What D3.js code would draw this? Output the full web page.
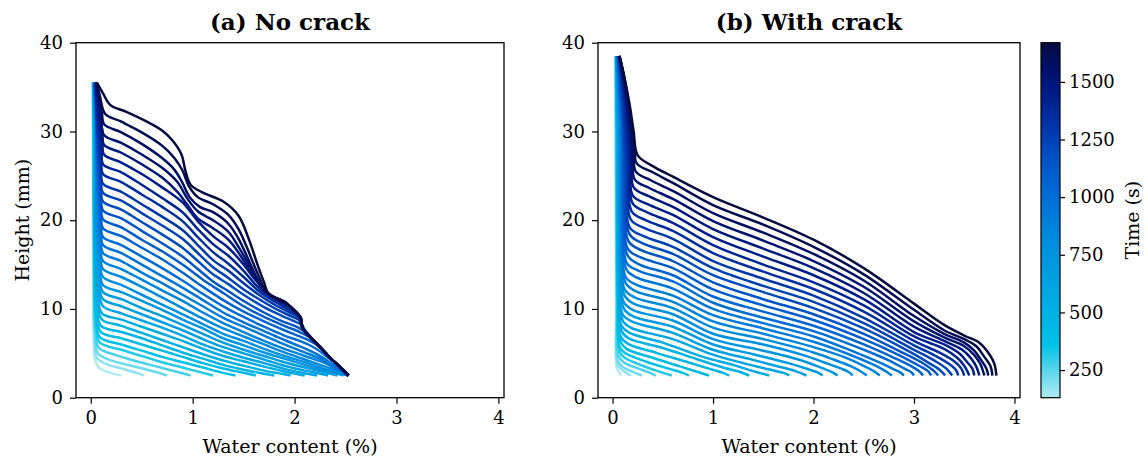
<!DOCTYPE html>
<html>
<head>
<meta charset="utf-8">
<script src="https://cdn.jsdelivr.net/npm/d3@7"></script>
<style>
  body { margin: 0; background: #fff; }
  svg text { font-family: "DejaVu Serif", serif; fill: #000; }
</style>
</head>
<body>
<svg id="chart"></svg>
<script>
// time of each profile (s), earliest first
const times = [130, 177, 223, 270, 317, 363, 410, 457, 503, 550, 597, 643, 690, 737, 783, 830, 877,
  923, 970, 1017, 1063, 1110, 1157, 1203, 1250, 1297, 1343, 1390, 1437, 1483, 1530, 1577, 1623, 1670];

// (a) no crack: [water content %, height mm] along each profile
const curvesA = [
  [[0.02,35.5],[0.02,30],[0.025,15],[0.03,6],[0.04,4.4],[0.08,3.4],[0.18,2.85],[0.3,2.5]],
  [[0.02,35.5],[0.022,30],[0.027,15],[0.035,6.5],[0.06,4.5],[0.15,3.8],[0.3,3.3],[0.45,2.8],[0.52,2.5]],
  [[0.022,35.5],[0.024,30],[0.03,15],[0.04,7],[0.07,5.0],[0.2,4.2],[0.4,3.6],[0.6,3.0],[0.75,2.5]],
  [[0.022,35.5],[0.026,30],[0.032,15],[0.045,7.5],[0.08,5.6],[0.25,4.8],[0.45,4.1],[0.65,3.5],[0.85,2.9],[0.98,2.5]],
  [[0.024,35.5],[0.028,30],[0.034,15],[0.05,8],[0.09,6.2],[0.3,5.4],[0.5,4.7],[0.7,4.0],[0.9,3.4],[1.1,2.8],[1.2,2.5]],
  [[0.024,35.5],[0.03,30],[0.036,15],[0.055,8.6],[0.09,6.8],[0.3,6.0],[0.5,5.3],[0.7,4.6],[0.9,4.0],[1.1,3.4],[1.3,2.8],[1.42,2.5]],
  [[0.026,35.5],[0.032,30],[0.038,15],[0.058,9.3],[0.1,7.4],[0.3,6.7],[0.5,6.0],[0.7,5.3],[0.9,4.6],[1.1,3.9],[1.3,3.3],[1.5,2.8],[1.62,2.5]],
  [[0.026,35.5],[0.034,30],[0.04,16],[0.06,10],[0.1,8.1],[0.3,7.4],[0.5,6.7],[0.7,5.9],[0.9,5.1],[1.1,4.4],[1.3,3.7],[1.5,3.15],[1.7,2.7],[1.8,2.5]],
  [[0.028,35.5],[0.036,30],[0.042,16],[0.065,10.7],[0.11,8.8],[0.3,8.1],[0.5,7.3],[0.7,6.5],[0.9,5.7],[1.1,4.9],[1.3,4.2],[1.5,3.6],[1.7,3.05],[1.87,2.7],[1.96,2.5]],
  [[0.028,35.5],[0.038,30],[0.045,17],[0.07,11.4],[0.11,9.5],[0.3,8.8],[0.5,8.0],[0.7,7.2],[0.9,6.4],[1.1,5.5],[1.3,4.7],[1.5,4.1],[1.7,3.5],[1.9,2.95],[2.03,2.65],[2.1,2.5]],
  [[0.03,35.5],[0.04,30],[0.048,18],[0.075,12.2],[0.12,10.3],[0.3,9.5],[0.5,8.7],[0.7,7.9],[0.9,7.0],[1.1,6.0],[1.3,5.2],[1.5,4.5],[1.7,3.9],[1.9,3.25],[2.1,2.75],[2.22,2.5]],
  [[0.03,35.5],[0.042,30],[0.05,18],[0.08,13],[0.12,11.1],[0.3,10.3],[0.5,9.4],[0.7,8.5],[0.9,7.6],[1.1,6.6],[1.3,5.7],[1.5,5.0],[1.7,4.3],[1.9,3.6],[2.1,3.05],[2.25,2.7],[2.33,2.5]],
  [[0.032,35.5],[0.044,30],[0.053,19],[0.085,13.8],[0.12,11.9],[0.3,11.1],[0.5,10.1],[0.7,9.2],[0.9,8.2],[1.1,7.2],[1.3,6.2],[1.5,5.4],[1.7,4.7],[1.9,4.0],[2.1,3.4],[2.3,2.85],[2.42,2.5]],
  [[0.032,35.5],[0.046,30],[0.056,20],[0.09,14.6],[0.12,12.7],[0.3,11.9],[0.5,10.9],[0.7,9.9],[0.9,8.8],[1.1,7.8],[1.3,6.7],[1.5,5.9],[1.7,5.1],[1.9,4.4],[2.1,3.7],[2.3,3.0],[2.42,2.7],[2.48,2.5]],
  [[0.034,35.5],[0.048,30],[0.058,21],[0.09,15.5],[0.12,13.6],[0.3,12.7],[0.5,11.6],[0.7,10.5],[0.9,9.4],[1.1,8.3],[1.3,7.2],[1.5,6.4],[1.7,5.5],[1.9,4.7],[2.1,4.0],[2.3,3.2],[2.45,2.75],[2.52,2.5]],
  [[0.034,35.5],[0.05,30],[0.06,22],[0.095,16.4],[0.12,14.5],[0.3,13.6],[0.5,12.5],[0.7,11.3],[0.9,10.1],[1.1,8.9],[1.3,7.8],[1.5,6.9],[1.7,6.0],[1.9,5.1],[2.1,4.3],[2.3,3.5],[2.45,2.9],[2.53,2.5]],
  [[0.036,35.5],[0.052,30],[0.062,23],[0.095,17.3],[0.12,15.4],[0.3,14.5],[0.5,13.3],[0.7,12.1],[0.9,10.9],[1.1,9.6],[1.3,8.4],[1.5,7.4],[1.7,6.4],[1.9,5.5],[2.1,4.7],[2.3,3.9],[2.45,3.0],[2.53,2.5]],
  [[0.036,35.5],[0.054,30],[0.065,24],[0.1,18.2],[0.12,16.3],[0.3,15.4],[0.5,14.1],[0.7,12.9],[0.9,11.6],[1.1,10.3],[1.3,9.0],[1.5,8.0],[1.7,7.0],[1.9,6.0],[2.1,5.1],[2.27,4.3],[2.42,3.2],[2.53,2.5]],
  [[0.038,35.5],[0.056,30],[0.068,24],[0.1,19.1],[0.12,17.2],[0.3,16.3],[0.5,15.0],[0.7,13.7],[0.9,12.4],[1.1,11.0],[1.3,9.6],[1.5,8.5],[1.7,7.5],[1.9,6.5],[2.07,5.7],[2.22,4.9],[2.38,3.7],[2.53,2.5]],
  [[0.038,35.5],[0.058,30],[0.07,25],[0.1,20],[0.12,18.1],[0.3,17.2],[0.5,15.9],[0.7,14.6],[0.9,13.2],[1.1,11.7],[1.3,10.3],[1.5,9.1],[1.7,8.0],[1.9,7.0],[2.05,6.4],[2.2,5.6],[2.33,4.5],[2.45,3.4],[2.53,2.5]],
  [[0.04,35.5],[0.06,30],[0.072,25],[0.1,21],[0.12,19.1],[0.3,18.2],[0.5,16.9],[0.7,15.6],[0.9,14.1],[1.1,12.5],[1.3,11.0],[1.5,9.7],[1.7,8.6],[1.9,7.6],[2.05,6.9],[2.15,6.4],[2.25,5.7],[2.35,4.5],[2.45,3.4],[2.53,2.5]],
  [[0.04,35.5],[0.062,30],[0.075,26],[0.1,22],[0.12,20.1],[0.3,19.2],[0.5,17.8],[0.7,16.5],[0.9,15.0],[1.1,13.3],[1.3,11.8],[1.5,10.3],[1.7,9.1],[1.9,8.1],[2.05,7.4],[2.15,6.8],[2.2,6.3],[2.35,4.5],[2.45,3.4],[2.53,2.5]],
  [[0.042,35.5],[0.064,30],[0.078,26],[0.1,23],[0.12,21.1],[0.3,20.2],[0.5,18.8],[0.7,17.4],[0.9,15.9],[1.05,14.5],[1.2,13.1],[1.35,12.0],[1.5,10.9],[1.7,9.6],[1.88,8.6],[2.0,8.1],[2.08,7.6],[2.2,6.3],[2.35,4.5],[2.45,3.4],[2.53,2.5]],
  [[0.042,35.5],[0.066,30],[0.08,27],[0.1,24],[0.12,22.1],[0.3,21.2],[0.5,19.8],[0.7,18.4],[0.9,16.9],[1.05,15.4],[1.2,13.9],[1.35,12.8],[1.5,11.6],[1.7,10.2],[1.88,9.2],[2.0,8.6],[2.07,8.2],[2.1,7.6],[2.2,6.3],[2.35,4.5],[2.45,3.4],[2.53,2.5]],
  [[0.044,35.5],[0.068,30],[0.085,27],[0.1,25],[0.12,23.1],[0.3,22.2],[0.5,20.8],[0.7,19.4],[0.9,17.9],[1.05,16.3],[1.2,14.7],[1.35,13.5],[1.5,12.2],[1.68,10.9],[1.85,9.8],[1.98,9.1],[2.06,8.6],[2.09,7.8],[2.2,6.3],[2.35,4.5],[2.45,3.4],[2.53,2.5]],
  [[0.044,35.5],[0.07,30],[0.09,27.5],[0.1,26],[0.12,24.1],[0.3,23.2],[0.5,21.8],[0.7,20.4],[0.9,18.9],[1.05,17.2],[1.2,15.5],[1.35,14.3],[1.5,12.9],[1.65,11.6],[1.8,10.5],[1.95,9.6],[2.04,9.0],[2.08,7.8],[2.2,6.3],[2.35,4.5],[2.45,3.4],[2.53,2.5]],
  [[0.046,35.5],[0.072,31],[0.095,28],[0.105,27],[0.12,25.2],[0.3,24.3],[0.5,22.9],[0.7,21.5],[0.9,19.9],[1.05,18.1],[1.2,16.4],[1.35,15.1],[1.5,13.6],[1.63,12.2],[1.75,11.2],[1.9,10.2],[2.0,9.5],[2.06,9.0],[2.08,7.8],[2.2,6.3],[2.35,4.5],[2.45,3.4],[2.53,2.5]],
  [[0.048,35.5],[0.074,32],[0.1,29],[0.11,28],[0.12,26.3],[0.3,25.4],[0.5,24.0],[0.7,22.5],[0.9,20.9],[1.05,19.0],[1.2,17.3],[1.35,16.0],[1.5,14.3],[1.62,12.7],[1.72,11.7],[1.85,10.8],[1.97,10.0],[2.04,9.2],[2.08,7.8],[2.2,6.3],[2.35,4.5],[2.45,3.4],[2.53,2.5]],
  [[0.05,35.5],[0.076,32.5],[0.1,30],[0.115,29],[0.13,27.4],[0.3,26.5],[0.5,25.2],[0.7,23.7],[0.9,22.0],[1.05,19.9],[1.2,18.2],[1.35,16.9],[1.5,15.0],[1.6,13.5],[1.7,12.2],[1.8,11.3],[1.92,10.5],[2.0,9.8],[2.06,9.0],[2.08,7.8],[2.2,6.3],[2.35,4.5],[2.45,3.4],[2.53,2.5]],
  [[0.052,35.5],[0.078,33],[0.1,31],[0.115,30],[0.13,28.5],[0.3,27.6],[0.5,26.3],[0.7,24.8],[0.85,23.2],[0.95,21.7],[1.05,20.2],[1.2,19.1],[1.35,17.8],[1.47,16.0],[1.57,14.2],[1.66,12.7],[1.75,11.6],[1.85,11.0],[1.95,10.3],[2.0,9.8],[2.06,9.0],[2.08,7.8],[2.2,6.3],[2.35,4.5],[2.45,3.4],[2.53,2.5]],
  [[0.054,35.5],[0.08,33.5],[0.1,31.5],[0.13,29.6],[0.3,28.7],[0.5,27.4],[0.7,25.9],[0.85,24.3],[0.95,22.4],[1.05,21.0],[1.2,20.0],[1.35,18.7],[1.45,17.0],[1.55,15.0],[1.63,13.3],[1.7,12.2],[1.8,11.3],[1.9,10.8],[2.0,9.8],[2.06,9.0],[2.08,7.8],[2.2,6.3],[2.35,4.5],[2.45,3.4],[2.53,2.5]],
  [[0.056,35.5],[0.08,34],[0.11,32],[0.13,30.8],[0.3,29.9],[0.5,28.6],[0.7,27.0],[0.82,25.7],[0.9,24.2],[0.97,22.6],[1.07,21.5],[1.2,20.9],[1.35,19.6],[1.45,17.9],[1.53,16.0],[1.6,14.2],[1.67,12.6],[1.75,11.6],[1.9,10.8],[2.0,9.8],[2.06,9.0],[2.08,7.8],[2.2,6.3],[2.35,4.5],[2.45,3.4],[2.53,2.5]],
  [[0.058,35.5],[0.09,34.0],[0.14,32.0],[0.3,31.1],[0.5,29.9],[0.7,28.4],[0.82,27.0],[0.9,25.6],[0.96,23.9],[1.05,22.6],[1.2,21.8],[1.35,20.6],[1.45,19.0],[1.53,17.0],[1.6,15.0],[1.67,13.1],[1.73,11.8],[1.9,10.8],[2.0,9.8],[2.06,9.0],[2.08,7.8],[2.2,6.3],[2.35,4.5],[2.45,3.4],[2.53,2.5]],
  [[0.06,35.5],[0.12,34.3],[0.19,33.0],[0.35,32.2],[0.55,31.1],[0.7,30.1],[0.8,29.0],[0.89,27.4],[0.93,25.5],[0.98,24.0],[1.1,23.1],[1.3,22.1],[1.45,20.5],[1.55,17.9],[1.63,15.2],[1.7,13.0],[1.75,11.6],[1.9,10.8],[2.0,9.8],[2.06,9.0],[2.08,7.8],[2.2,6.3],[2.35,4.5],[2.45,3.4],[2.53,2.5]]
];

// (b) with crack
const curvesB = [
  [[0.03,38.5],[0.03,36],[0.03,30],[0.035,10],[0.04,3.4],[0.06,3.0],[0.08,2.5]],
  [[0.031,38.5],[0.032,36],[0.033,30],[0.04,10],[0.05,3.8],[0.09,3.2],[0.14,2.8],[0.18,2.5]],
  [[0.032,38.5],[0.033,36],[0.035,30],[0.042,10],[0.05,4.2],[0.1,3.5],[0.2,2.9],[0.29,2.5]],
  [[0.033,38.5],[0.034,36],[0.037,30],[0.045,10],[0.06,4.7],[0.11,4.0],[0.25,3.3],[0.35,2.9],[0.43,2.5]],
  [[0.034,38.5],[0.035,36],[0.04,30],[0.05,10],[0.07,5.2],[0.12,4.5],[0.3,3.6],[0.45,3.0],[0.59,2.5]],
  [[0.035,38.5],[0.036,36],[0.042,30],[0.052,11],[0.07,5.7],[0.13,5.0],[0.35,4.0],[0.55,3.3],[0.7,2.8],[0.76,2.5]],
  [[0.036,38.5],[0.038,36],[0.045,30],[0.055,11],[0.08,6.3],[0.14,5.5],[0.4,4.5],[0.65,3.6],[0.85,2.9],[0.96,2.5]],
  [[0.037,38.5],[0.04,36],[0.047,30],[0.058,12],[0.08,6.9],[0.15,6.1],[0.45,5.0],[0.75,4.0],[0.95,3.3],[1.1,2.8],[1.16,2.5]],
  [[0.038,38.5],[0.041,36],[0.05,30],[0.06,12],[0.09,7.5],[0.16,6.7],[0.5,5.6],[0.85,4.3],[1.1,3.4],[1.27,2.9],[1.36,2.5]],
  [[0.04,38.5],[0.043,36],[0.052,30],[0.062,13],[0.09,8.1],[0.17,7.3],[0.5,6.2],[0.9,4.6],[1.2,3.7],[1.4,3.0],[1.56,2.5]],
  [[0.041,38.5],[0.045,36],[0.055,30],[0.065,13],[0.1,8.7],[0.18,7.9],[0.6,6.6],[1.0,4.85],[1.3,3.9],[1.55,3.2],[1.7,2.8],[1.76,2.5]],
  [[0.042,38.5],[0.046,36],[0.058,30],[0.068,14],[0.1,9.4],[0.19,8.6],[0.6,7.3],[1.0,5.4],[1.35,4.4],[1.62,3.6],[1.82,3.0],[1.93,2.5]],
  [[0.043,38.5],[0.048,36],[0.062,30],[0.072,15],[0.11,10.1],[0.2,9.2],[0.6,8.0],[1.0,6.0],[1.4,4.9],[1.75,3.9],[1.95,3.2],[2.05,2.8],[2.09,2.5]],
  [[0.044,38.5],[0.05,36],[0.066,30],[0.075,15],[0.11,10.8],[0.2,9.9],[0.6,8.7],[1.0,6.6],[1.5,5.3],[1.85,4.3],[2.05,3.5],[2.18,2.9],[2.24,2.5]],
  [[0.045,38.5],[0.053,36],[0.07,30],[0.08,16],[0.12,11.5],[0.21,10.6],[0.6,9.4],[1.0,7.2],[1.5,6.0],[1.9,4.8],[2.1,4.0],[2.27,3.3],[2.35,2.9],[2.39,2.5]],
  [[0.047,38.5],[0.055,36],[0.075,30],[0.085,17],[0.12,12.2],[0.22,11.3],[0.6,10.1],[1.0,7.9],[1.5,6.6],[2.0,5.1],[2.2,4.3],[2.38,3.5],[2.48,2.9],[2.53,2.5]],
  [[0.048,38.5],[0.058,36],[0.08,30],[0.09,17],[0.13,12.9],[0.23,12.0],[0.6,10.8],[1.0,8.6],[1.5,7.2],[2.0,5.7],[2.3,4.6],[2.48,3.7],[2.6,3.0],[2.66,2.5]],
  [[0.05,38.5],[0.06,36],[0.085,30],[0.095,18],[0.13,13.6],[0.24,12.7],[0.6,11.5],[1.0,9.3],[1.5,7.8],[2.0,6.3],[2.35,4.9],[2.58,3.8],[2.7,3.1],[2.78,2.5]],
  [[0.051,38.5],[0.062,36],[0.09,30],[0.1,19],[0.14,14.4],[0.25,13.5],[0.6,12.3],[1.0,10.0],[1.5,8.4],[2.0,6.9],[2.4,5.2],[2.65,4.0],[2.8,3.2],[2.87,2.8],[2.9,2.5]],
  [[0.052,38.5],[0.065,36],[0.095,30],[0.105,20],[0.14,15.2],[0.26,14.3],[0.6,13.1],[1.0,10.7],[1.5,9.0],[2.0,7.5],[2.5,5.4],[2.75,4.2],[2.9,3.3],[2.97,2.9],[3.0,2.5]],
  [[0.054,38.5],[0.068,36],[0.1,30],[0.11,21],[0.15,16.0],[0.27,15.0],[0.6,13.8],[1.0,11.4],[1.5,9.7],[2.0,8.1],[2.5,6.0],[2.8,4.5],[2.98,3.5],[3.06,2.9],[3.09,2.5]],
  [[0.055,38.5],[0.07,36],[0.105,30],[0.115,22],[0.15,16.8],[0.28,15.8],[0.6,14.6],[1.0,12.2],[1.5,10.4],[2.0,8.75],[2.5,6.6],[2.85,4.8],[3.05,3.6],[3.14,3.0],[3.17,2.5]],
  [[0.057,38.5],[0.075,36],[0.11,30],[0.12,23],[0.16,17.6],[0.29,16.6],[0.6,15.4],[1.0,13.0],[1.5,11.1],[2.0,9.4],[2.5,7.2],[2.9,5.0],[3.1,3.8],[3.2,3.0],[3.24,2.5]],
  [[0.058,38.5],[0.08,36],[0.115,30],[0.13,24],[0.17,18.4],[0.3,17.4],[0.6,16.2],[1.0,13.8],[1.5,11.9],[2.0,10.1],[2.5,7.8],[3.0,4.9],[3.15,3.9],[3.26,3.1],[3.31,2.5]],
  [[0.06,38.5],[0.085,36],[0.12,30],[0.14,25],[0.17,19.2],[0.31,18.2],[0.6,17.0],[1.0,14.6],[1.5,12.6],[2.0,10.8],[2.5,8.4],[3.0,5.4],[3.2,4.2],[3.32,3.3],[3.38,2.5]],
  [[0.061,38.5],[0.09,36],[0.13,30],[0.15,25.5],[0.18,20.1],[0.32,19.1],[0.6,17.9],[1.0,15.4],[1.5,13.4],[2.0,11.5],[2.5,9.0],[3.0,5.9],[3.2,4.8],[3.35,3.8],[3.42,3.1],[3.44,2.5]],
  [[0.062,38.5],[0.095,36],[0.14,30],[0.16,26],[0.19,21.0],[0.33,20.0],[0.6,18.8],[1.0,16.3],[1.5,14.2],[2.0,12.25],[2.5,9.7],[3.0,6.4],[3.25,5.1],[3.4,4.1],[3.47,3.3],[3.5,2.5]],
  [[0.064,38.5],[0.1,36],[0.15,30],[0.17,26.5],[0.2,21.9],[0.34,20.9],[0.6,19.7],[1.0,17.2],[1.5,15.0],[2.0,13.0],[2.5,10.4],[3.0,6.9],[3.3,5.5],[3.43,4.5],[3.5,3.6],[3.55,2.5]],
  [[0.065,38.5],[0.105,36],[0.16,30],[0.18,27],[0.2,22.8],[0.35,21.8],[0.6,20.6],[1.0,18.1],[1.5,15.9],[2.0,13.8],[2.5,11.1],[3.0,7.4],[3.3,6.0],[3.45,5.0],[3.53,4.0],[3.58,3.3],[3.6,2.5]],
  [[0.066,38.5],[0.11,36],[0.17,30],[0.19,27],[0.21,23.7],[0.36,22.7],[0.6,21.5],[1.0,19.0],[1.5,16.8],[2.0,14.6],[2.5,11.8],[3.0,8.0],[3.3,6.4],[3.48,5.4],[3.57,4.4],[3.62,3.5],[3.65,2.5]],
  [[0.067,38.5],[0.112,36],[0.18,30],[0.2,27.5],[0.22,24.6],[0.37,23.6],[0.6,22.4],[1.0,19.9],[1.5,17.7],[2.0,15.4],[2.5,12.5],[3.0,8.6],[3.3,6.8],[3.5,5.8],[3.6,4.8],[3.66,3.8],[3.7,2.5]],
  [[0.068,38.5],[0.115,36],[0.19,30],[0.21,28],[0.23,25.5],[0.38,24.5],[0.6,23.3],[1.0,20.8],[1.5,18.6],[2.0,16.2],[2.5,13.2],[3.0,9.2],[3.3,7.2],[3.5,6.2],[3.6,5.3],[3.67,4.2],[3.72,3.3],[3.74,2.5]],
  [[0.069,38.5],[0.118,36],[0.2,30],[0.22,28],[0.24,26.4],[0.4,25.4],[0.6,24.2],[1.0,21.7],[1.5,19.5],[2.0,17.0],[2.5,13.9],[3.0,9.9],[3.3,7.6],[3.5,6.6],[3.62,5.8],[3.7,4.6],[3.76,3.6],[3.78,2.5]],
  [[0.07,38.5],[0.12,36],[0.17,33],[0.21,30],[0.25,27.3],[0.4,26.1],[0.6,24.9],[1.0,22.6],[1.5,20.3],[2.0,17.8],[2.5,14.6],[3.0,10.6],[3.3,8.2],[3.5,7.0],[3.65,6.2],[3.75,4.9],[3.8,3.8],[3.82,2.5]]
];

const xTicks = [0, 1, 2, 3, 4];
const yTicks = [0, 10, 20, 30, 40];
const timeTicks = [250, 500, 750, 1000, 1250, 1500];
const titles = ["(a) No crack", "(b) With crack"];

const width = 1147, height = 462;
const plotTop = 42.7, plotBottom = 397.7;
const serif = "DejaVu Serif";

const svg = d3.select("#chart")
  .attr("width", width)
  .attr("height", height);

// colour map, light cyan -> navy
const cmapColors = ["#b0eaf2", "#55d5ec", "#00c2e6", "#00a6e3", "#008bde", "#006bd6",
  "#0050c6", "#0036aa", "#001d8a", "#000f68", "#070b40"];
const cmapPos = [0, 0.08, 0.15, 0.3, 0.45, 0.58, 0.68, 0.76, 0.85, 0.93, 1];
const tMin = 130, tMax = 1670;
const colorScale = d3.scaleLinear()
  .domain(cmapPos.map(p => tMin + p * (tMax - tMin)))
  .range(cmapColors)
  .interpolate(d3.interpolateRgb);

const yScale = d3.scaleLinear().domain([0, 40]).range([plotBottom, plotTop]);

function styleAxis(a) {
  a.select(".domain").remove();
  a.selectAll("line").attr("stroke", "#000").attr("stroke-width", 1.2);
  a.selectAll("text")
    .attr("font-family", serif)
    .attr("font-size", 18)
    .attr("fill", "#000");
}

function drawPanel(curves, left, right, title, id, showYLabel) {
  const xScale = d3.scaleLinear().domain([-0.145, 4.055]).range([left, right]);
  const g = svg.append("g");

  g.append("clipPath").attr("id", "clip" + id)
    .append("rect")
    .attr("x", left).attr("y", plotTop)
    .attr("width", right - left).attr("height", plotBottom - plotTop);

  const line = d3.line()
    .x(d => xScale(d[0]))
    .y(d => yScale(d[1]))
    .curve(d3.curveCatmullRom.alpha(0.5));

  g.append("g")
    .attr("clip-path", `url(#clip${id})`)
    .selectAll("path")
    .data(curves)
    .enter().append("path")
    .attr("d", line)
    .attr("fill", "none")
    .attr("stroke", (d, i) => colorScale(times[i]))
    .attr("stroke-width", 2.5)
    .attr("stroke-linejoin", "round");

  const xAxis = g.append("g")
    .attr("transform", `translate(0, ${plotBottom})`)
    .call(d3.axisBottom(xScale).tickValues(xTicks).tickFormat(d3.format("d"))
      .tickSize(6).tickSizeOuter(0).tickPadding(8));
  const yAxis = g.append("g")
    .attr("transform", `translate(${left}, 0)`)
    .call(d3.axisLeft(yScale).tickValues(yTicks).tickFormat(d3.format("d"))
      .tickSize(6).tickSizeOuter(0).tickPadding(7));
  styleAxis(xAxis);
  styleAxis(yAxis);

  g.append("rect")
    .attr("x", left).attr("y", plotTop)
    .attr("width", right - left).attr("height", plotBottom - plotTop)
    .attr("fill", "none")
    .attr("stroke", "#000")
    .attr("stroke-width", 1.3);

  g.append("text")
    .attr("x", (left + right) / 2)
    .attr("y", 30)
    .attr("text-anchor", "middle")
    .style("font-weight", "bold")
    .style("font-size", "23px")
    .text(title);

  g.append("text")
    .attr("x", (left + right) / 2)
    .attr("y", 453)
    .attr("text-anchor", "middle")
    .style("font-size", "19px")
    .text("Water content (%)");

  if (showYLabel) {
    g.append("text")
      .attr("transform", `translate(29, ${(plotTop + plotBottom) / 2}) rotate(-90)`)
      .attr("text-anchor", "middle")
      .style("font-size", "19px")
      .text("Height (mm)");
  }
}

drawPanel(curvesA, 76, 504, titles[0], "a", true);
drawPanel(curvesB, 598, 1020, titles[1], "b", false);

// colorbar
const cbLeft = 1041, cbRight = 1060;
const cbScale = d3.scaleLinear().domain([tMin, tMax]).range([plotBottom, plotTop]);

const grad = svg.append("defs").append("linearGradient")
  .attr("id", "cbGrad")
  .attr("x1", 0).attr("y1", 1).attr("x2", 0).attr("y2", 0);
grad.selectAll("stop")
  .data(cmapPos)
  .enter().append("stop")
  .attr("offset", d => d)
  .attr("stop-color", (d, i) => cmapColors[i]);

svg.append("rect")
  .attr("x", cbLeft).attr("y", plotTop)
  .attr("width", cbRight - cbLeft).attr("height", plotBottom - plotTop)
  .attr("fill", "url(#cbGrad)")
  .attr("stroke", "#000")
  .attr("stroke-width", 1.2);

const cbAxis = svg.append("g")
  .attr("transform", `translate(${cbRight}, 0)`)
  .call(d3.axisRight(cbScale).tickValues(timeTicks).tickFormat(d3.format("d"))
    .tickSize(5).tickSizeOuter(0).tickPadding(4));
styleAxis(cbAxis);

svg.append("text")
  .attr("transform", `translate(1139, ${(plotTop + plotBottom) / 2}) rotate(-90)`)
  .attr("text-anchor", "middle")
  .style("font-size", "19px")
  .text("Time (s)");
</script>
</body>
</html>
